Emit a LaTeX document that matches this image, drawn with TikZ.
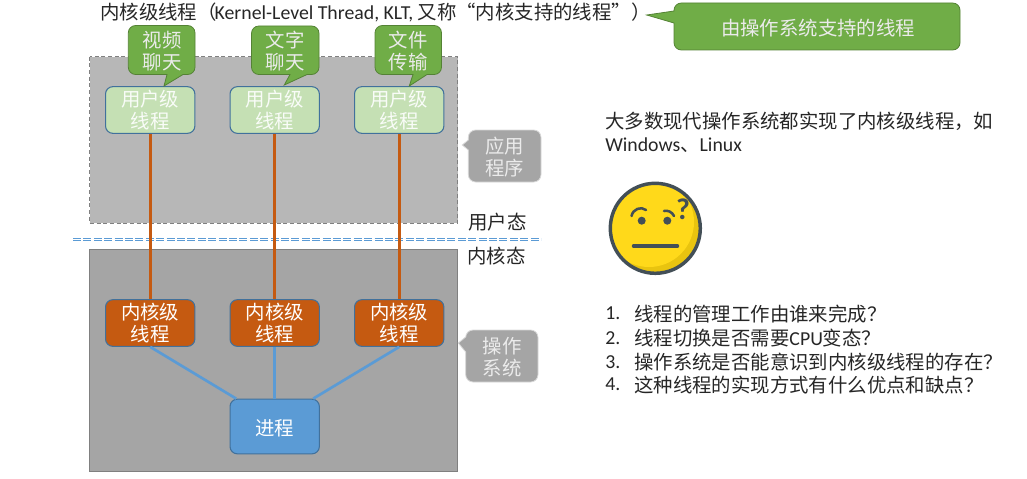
\documentclass[tikz,border=0pt]{standalone}
\usepackage{fontspec}
\setmainfont{Noto Sans CJK SC}
\newfontfamily\latfont[Scale=1.02]{Carlito}
\usepackage{xcolor}
\usetikzlibrary{calc}
\usetikzlibrary{positioning}

\definecolor{bubgreen}{RGB}{112,173,71}
\definecolor{bubedge}{RGB}{84,130,53}
\definecolor{opsgray}{RGB}{165,165,165}
\definecolor{appgray}{RGB}{183,183,183}
\definecolor{ulgreen}{RGB}{197,224,180}
\definecolor{klorange}{RGB}{197,90,17}
\definecolor{procblue}{RGB}{91,155,213}
\definecolor{boxedge}{RGB}{65,113,156}
\definecolor{faceedge}{RGB}{67,79,87}

\tikzset{
  txt/.style={anchor=west,inner sep=0pt,yshift=-0.5pt,font=\fontsize{14.55}{19}\selectfont,text=black!85},
  bubtxt/.style={inner sep=0pt,yshift=-0.5pt,align=center,text=white!92!black,font=\fontsize{14.55}{16.5}\selectfont},
  greenbub/.style={draw=bubedge,fill=bubgreen,line width=0.6pt},
  graybub/.style={draw=white!85!black,fill=opsgray,line width=0.6pt},
  thrbox/.style={rounded corners=5.5pt,line width=0.8pt,draw=boxedge,minimum width=67pt,inner sep=0pt,align=center,text=white,font=\fontsize{14.55}{16.5}\selectfont,execute at begin node={\rule{0pt}{14.3pt}}},
  ulbox/.style={thrbox,fill=ulgreen,minimum height=35pt,text=white!90!ulgreen},
  klbox/.style={thrbox,fill=klorange,minimum height=35pt},
  procbox/.style={thrbox,fill=procblue,minimum height=41pt},
  redline/.style={draw=klorange,line width=2.1pt},
  blueline/.style={draw=procblue,line width=2pt},
}

\begin{document}
\begin{tikzpicture}[x=0.75pt,y=0.75pt,yscale=-1,xscale=1]
  \useasboundingbox (0,0) rectangle (1027,478);

  %Application and system areas
  \draw [draw=black!50,densely dashed,line width=0.5pt,fill=appgray] (89.5,56.7) rectangle (457.7,223);
  \draw [draw=black!50,line width=0.6pt,fill=opsgray] (89.8,249.3) rectangle (457.5,471.7);

  %Mode boundary
  \coordinate (sepl) at (73,239.5);
  \coordinate (sepr) at (541,239.5);
  \draw [draw=procblue,double=white,double distance=1.3pt,dash pattern=on 6pt off 1.8pt,line width=0.8pt] (sepl) -- (sepr);

  %Thread boxes
  \node [ulbox] (u1) at (150.2,110) {用户级\\线程};
  \node [ulbox] (u2) at (274.7,110) {用户级\\线程};
  \node [ulbox] (u3) at (399.2,110) {用户级\\线程};
  \node [klbox] (k1) at (150.2,323) {内核级\\线程};
  \node [klbox] (k2) at (274.7,323) {内核级\\线程};
  \node [klbox] (k3) at (399.2,323) {内核级\\线程};
  \node [procbox] (p) at (274.7,426.5) {进程};

  %Connectors
  \draw [redline] (u1) -- (k1);
  \draw [redline] (u2) -- (k2);
  \draw [redline] (u3) -- (k3);
  \draw [blueline] (k1.south) -- ([xshift=5pt]p.north west);
  \draw [blueline] (k2.south) -- (p.north);
  \draw [blueline] (k3.south) -- ([xshift=-5pt]p.north east);

  %Green callouts
  \draw [greenbub,rounded corners=5.5pt] (128.3,25.5) -- (195,25.5) -- (195,74.5) [sharp corners] -- (183,74.5) -- (164,86) -- (167,74.5) [rounded corners=5.5pt] -- (128.3,74.5) -- cycle;
  \draw [greenbub,rounded corners=5.5pt] (251.5,26) -- (319,26) -- (319,74.5) [sharp corners] -- (307,74.5) -- (284.3,85) -- (290,74.5) [rounded corners=5.5pt] -- (251.5,74.5) -- cycle;
  \draw [greenbub,rounded corners=5.5pt] (375,25.5) -- (441.5,25.5) -- (441.5,74.5) [sharp corners] -- (427,74.5) -- (409.3,86) -- (413,74.5) [rounded corners=5.5pt] -- (375,74.5) -- cycle;
  \draw [greenbub,rounded corners=5.5pt] (674,3) -- (960,3) -- (960,50) -- (674,50) [sharp corners] -- (674,23) -- (646.7,15) -- (674,11) [rounded corners=5.5pt] -- cycle;

  %Gray callouts
  \draw [graybub,rounded corners=5.5pt] (468.3,130) -- (541,130) -- (541,182) -- (468.3,182) [sharp corners] -- (468.3,150) -- (462.3,145) -- (468.3,140) [rounded corners=5.5pt] -- cycle;
  \draw [graybub,rounded corners=5.5pt] (465.7,330) -- (538,330) -- (538,382) -- (465.7,382) [sharp corners] -- (465.7,352) -- (458.3,343) -- (465.7,337) [rounded corners=5.5pt] -- cycle;

  % Callout text
  \node [bubtxt] (b1) at (162,50) {视频\\聊天};
  \node [bubtxt] (b2) at (285,50) {文字\\聊天};
  \node [bubtxt] (b3) at (408,50) {文件\\传输};
  \node [bubtxt] (b4) at (818,27) {由操作系统支持的线程};
  \node [bubtxt] (b5) at (504.5,156) {应用\\程序};
  \node [bubtxt] (b6) at (502,356) {操作\\系统};

  % Text Node
  \node [txt] (title) at (100,11.5) {内核级线程（\kern-1.5pt{\latfont Kernel-Level Thread, KLT,} 又称“内核支持的线程”）};
  \node [txt] (umode) at (468,221) {用户态};
  \node [txt] (kmode) at (467,255) {内核态};
  \node [txt] (intro) at (605,120.5) {大多数现代操作系统都实现了内核级线程，如};
  \node [txt] (os) at (605,144.5) {{\latfont Windows}、{\latfont Linux}};

  % List
  \node [txt] (n1) at (605,313) {\latfont 1.};
  \node [txt] (n2) at (605,337) {\latfont 2.};
  \node [txt] (n3) at (605,361) {\latfont 3.};
  \node [txt] (n4) at (605,384) {\latfont 4.};
  \node [txt] (q1) at (634,313) {线程的管理工作由谁来完成？};
  \node [txt] (q2) at (634,337) {线程切换是否需要{\latfont CPU}变态？};
  \node [txt] (q3) at (634,361) {操作系统是否能意识到内核级线程的存在？};
  \node [txt] (q4) at (634,384) {这种线程的实现方式有什么优点和缺点？};

  %Face
  \fill [color={rgb, 255:red, 233; green, 196; blue, 15 }] (655.3,228.3) circle (45);
  \begin{scope}
    \clip (655.3,228.3) circle (45);
    \fill [color={rgb, 255:red, 255; green, 217; blue, 26 }] (649,222) circle (45);
  \end{scope}
  \draw [draw=faceedge,line width=2.6pt] (655.3,228.3) circle (45);
  \fill [faceedge] (641.7,220.7) circle (4);
  \fill [faceedge] (667.3,220.7) circle (4);
  \draw [draw=faceedge,line width=1.9pt,line cap=round] (631.5,216) .. controls (633,209) and (641,206) .. (646,210);
  \draw [draw=faceedge,line width=1.9pt,line cap=round] (664,211) .. controls (668,210) and (672,212) .. (674,216);
  \draw [draw=faceedge,line width=2.6pt,line cap=round] (633.5,246) -- (677.5,246);
  \node [inner sep=0pt,text=faceedge,font=\latfont\bfseries\fontsize{22}{22}\selectfont] (qmark) at (683,209) {?};
\end{tikzpicture}
\end{document}
